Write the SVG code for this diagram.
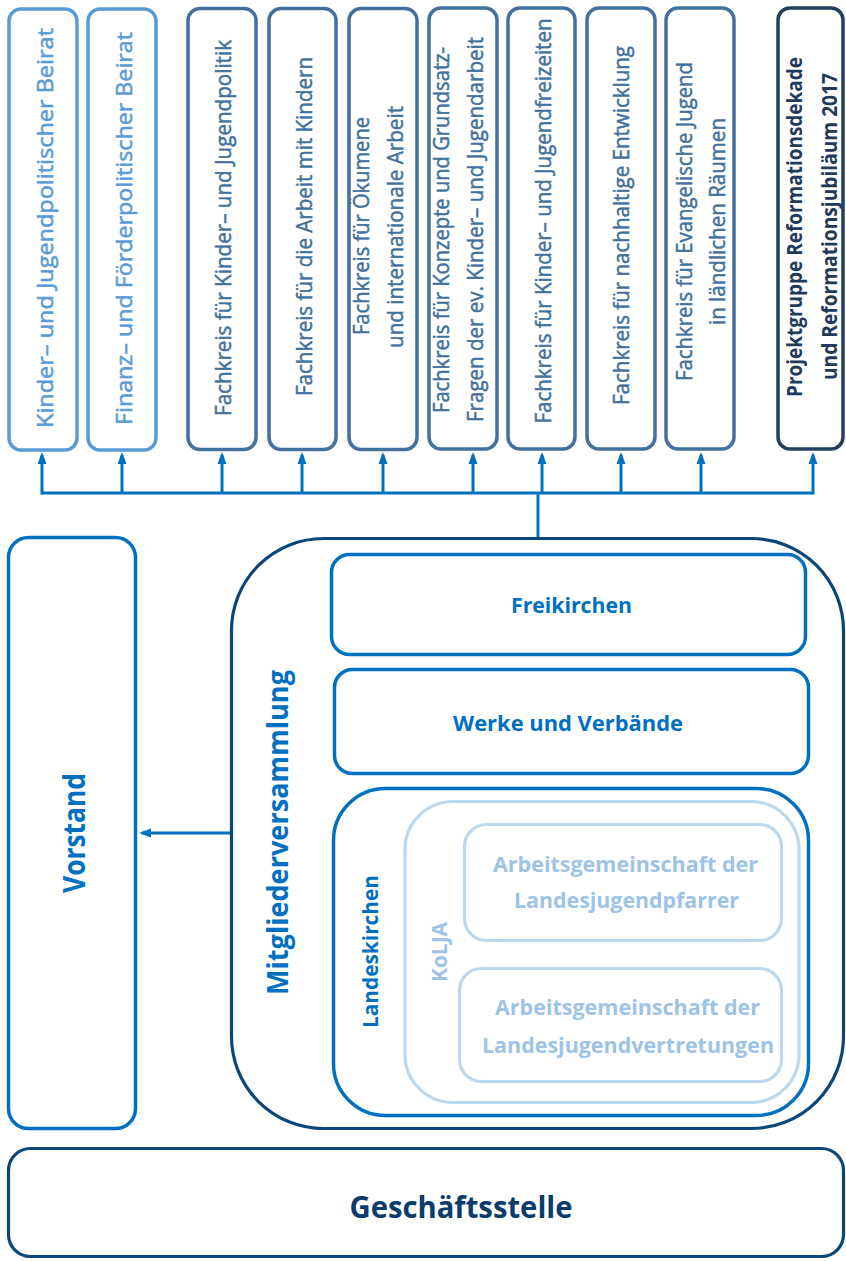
<svg xmlns="http://www.w3.org/2000/svg" width="846" height="1261" viewBox="0 0 846 1261">
<defs>
<marker id="arr" markerUnits="userSpaceOnUse" markerWidth="12" markerHeight="12" viewBox="0 0 12 12" refX="9" refY="6" orient="auto">
<path d="M0,1.5 L12,6 L0,10.5 Z" fill="#0070C0"/>
</marker>
</defs>
<style>
text{font-family:"Open Sans","Liberation Sans",sans-serif;}
.b{fill:#fff;stroke-width:3.5}
.lt{stroke:#5B9BD5}
.st{stroke:#41719C}
.dk{stroke:#233F60}
.bl{stroke:#0070C0}
.nv{stroke:#0B4679;stroke-width:3.2}
.pl{stroke:#BDD7EE;stroke-width:3.2}
.tl{fill:#5B9BD5;stroke:#5B9BD5;stroke-width:0.55;font-size:22px}
.ts{fill:#41719C;stroke:#41719C;stroke-width:0.5;font-size:21px}
.td{fill:#1F3A5A;font-size:21px;font-weight:700}
.tb{fill:#0070C0;font-weight:700}
.tp{fill:#9DC3E6;font-weight:700;font-size:22px}
.tg{fill:#0B3C6B;font-weight:700;font-size:31px}
.c{fill:none;stroke:#0070C0;stroke-width:3}
</style>
<rect width="846" height="1261" fill="#fff"/>

<g id="connectors">
<line class="c" x1="42" y1="493" x2="813" y2="493"/>
<line class="c" x1="538" y1="493" x2="538" y2="537"/>
<line class="c" x1="42" y1="494.5" x2="42" y2="455" marker-end="url(#arr)"/>
<line class="c" x1="122" y1="493" x2="122" y2="455" marker-end="url(#arr)"/>
<line class="c" x1="222" y1="493" x2="222" y2="455" marker-end="url(#arr)"/>
<line class="c" x1="302" y1="493" x2="302" y2="455" marker-end="url(#arr)"/>
<line class="c" x1="383" y1="493" x2="383" y2="455" marker-end="url(#arr)"/>
<line class="c" x1="473" y1="493" x2="473" y2="455" marker-end="url(#arr)"/>
<line class="c" x1="542" y1="493" x2="542" y2="455" marker-end="url(#arr)"/>
<line class="c" x1="621" y1="493" x2="621" y2="455" marker-end="url(#arr)"/>
<line class="c" x1="701" y1="493" x2="701" y2="455" marker-end="url(#arr)"/>
<line class="c" x1="813" y1="494.5" x2="813" y2="455" marker-end="url(#arr)"/>
<line class="c" x1="231" y1="833" x2="142" y2="833" marker-end="url(#arr)"/>
</g>

<g id="beirat-kj">
<rect class="b lt" x="9" y="9" width="68" height="441" rx="12"/>
<text class="tl" transform="translate(53,228) rotate(-90)" text-anchor="middle" textLength="400" lengthAdjust="spacingAndGlyphs">Kinder– und Jugendpolitischer Beirat</text>
</g>
<g id="beirat-ff">
<rect class="b lt" x="88" y="9" width="68" height="441" rx="12"/>
<text class="tl" transform="translate(132,228.5) rotate(-90)" text-anchor="middle" textLength="393" lengthAdjust="spacingAndGlyphs">Finanz– und Förderpolitischer Beirat</text>
</g>
<g id="fk-jugendpolitik">
<rect class="b st" x="188" y="8.5" width="68" height="441" rx="12"/>
<text class="ts" transform="translate(231,228) rotate(-90)" text-anchor="middle" textLength="376" lengthAdjust="spacingAndGlyphs">Fachkreis für Kinder– und Jugendpolitik</text>
</g>
<g id="fk-kinder">
<rect class="b st" x="269" y="8.5" width="67" height="441" rx="12"/>
<text class="ts" transform="translate(312,226.5) rotate(-90)" text-anchor="middle" textLength="339" lengthAdjust="spacingAndGlyphs">Fachkreis für die Arbeit mit Kindern</text>
</g>
<g id="fk-oekumene">
<rect class="b st" x="349" y="8.5" width="68" height="441" rx="12"/>
<text class="ts" transform="translate(369,226) rotate(-90)" text-anchor="middle" textLength="218" lengthAdjust="spacingAndGlyphs">Fachkreis für Ökumene</text>
<text class="ts" transform="translate(403,227) rotate(-90)" text-anchor="middle" textLength="242" lengthAdjust="spacingAndGlyphs">und internationale Arbeit</text>
</g>
<g id="fk-konzepte">
<rect class="b st" x="429" y="8" width="68" height="441" rx="12"/>
<text class="ts" transform="translate(449,230) rotate(-90)" text-anchor="middle" textLength="366" lengthAdjust="spacingAndGlyphs">Fachkreis für Konzepte und Grundsatz-</text>
<text class="ts" transform="translate(483,229.5) rotate(-90)" text-anchor="middle" textLength="385" lengthAdjust="spacingAndGlyphs">Fragen der ev. Kinder– und Jugendarbeit</text>
</g>
<g id="fk-freizeiten">
<rect class="b st" x="508" y="8" width="67" height="441" rx="12"/>
<text class="ts" transform="translate(551,221) rotate(-90)" text-anchor="middle" textLength="405" lengthAdjust="spacingAndGlyphs">Fachkreis für Kinder– und Jugendfreizeiten</text>
</g>
<g id="fk-nachhaltig">
<rect class="b st" x="587" y="8" width="68" height="441" rx="12"/>
<text class="ts" transform="translate(629,225.5) rotate(-90)" text-anchor="middle" textLength="359" lengthAdjust="spacingAndGlyphs">Fachkreis für nachhaltige Entwicklung</text>
</g>
<g id="fk-laendlich">
<rect class="b st" x="666" y="8" width="68" height="441" rx="12"/>
<text class="ts" transform="translate(692,221.5) rotate(-90)" text-anchor="middle" textLength="319" lengthAdjust="spacingAndGlyphs">Fachkreis für Evangelische Jugend</text>
<text class="ts" transform="translate(725,221.5) rotate(-90)" text-anchor="middle" textLength="207" lengthAdjust="spacingAndGlyphs">in ländlichen Räumen</text>
</g>
<g id="projektgruppe">
<rect class="b dk" x="778" y="8" width="65" height="441" rx="12"/>
<text class="td" transform="translate(802,227) rotate(-90)" text-anchor="middle" textLength="340" lengthAdjust="spacingAndGlyphs">Projektgruppe Reformationsdekade</text>
<text class="td" transform="translate(837,226.5) rotate(-90)" text-anchor="middle" textLength="307" lengthAdjust="spacingAndGlyphs">und Reformationsjubiläum 2017</text>
</g>

<g id="vorstand">
<rect class="b bl" x="8.5" y="537.5" width="127" height="591" rx="20"/>
<text class="tb" font-size="30" transform="translate(85,833) rotate(-90)" text-anchor="middle" textLength="120" lengthAdjust="spacingAndGlyphs">Vorstand</text>
</g>

<g id="mitgliederversammlung">
<rect class="b nv" x="231.5" y="538.5" width="612" height="590" rx="92"/>
<text class="tb" font-size="29" transform="translate(288,832.5) rotate(-90)" text-anchor="middle" textLength="325" lengthAdjust="spacingAndGlyphs">Mitgliederversammlung</text>
</g>

<g id="freikirchen">
<rect class="b bl" x="331.5" y="554.5" width="474" height="100" rx="18"/>
<text class="tb" font-size="22" x="571.5" y="613" text-anchor="middle" textLength="121" lengthAdjust="spacingAndGlyphs">Freikirchen</text>
</g>

<g id="werke">
<rect class="b bl" x="334.5" y="669.5" width="474" height="104" rx="18"/>
<text class="tb" font-size="22" x="568" y="731" text-anchor="middle" textLength="230" lengthAdjust="spacingAndGlyphs">Werke und Verbände</text>
</g>

<g id="landeskirchen">
<rect class="b bl" x="333.5" y="788.5" width="475" height="327" rx="52"/>
<text class="tb" font-size="22" transform="translate(378,951.5) rotate(-90)" text-anchor="middle" textLength="153" lengthAdjust="spacingAndGlyphs">Landeskirchen</text>
</g>

<g id="kolja">
<rect class="b pl" x="405" y="801.5" width="394" height="301" rx="48"/>
<text class="tp" transform="translate(447,952) rotate(-90)" text-anchor="middle" textLength="60" lengthAdjust="spacingAndGlyphs">KoLJA</text>
</g>

<g id="ag-pfarrer">
<rect class="b pl" x="464.5" y="824.5" width="317" height="116" rx="22"/>
<text class="tp" x="625.5" y="872" text-anchor="middle" textLength="265" lengthAdjust="spacingAndGlyphs">Arbeitsgemeinschaft der</text>
<text class="tp" x="626.5" y="908" text-anchor="middle" textLength="225" lengthAdjust="spacingAndGlyphs">Landesjugendpfarrer</text>
</g>

<g id="ag-vertretungen">
<rect class="b pl" x="459.5" y="968.5" width="322" height="113" rx="22"/>
<text class="tp" x="627.5" y="1015" text-anchor="middle" textLength="265" lengthAdjust="spacingAndGlyphs">Arbeitsgemeinschaft der</text>
<text class="tp" x="628" y="1053" text-anchor="middle" textLength="292" lengthAdjust="spacingAndGlyphs">Landesjugendvertretungen</text>
</g>

<g id="geschaeftsstelle">
<rect class="b nv" x="8.5" y="1148.5" width="835" height="108" rx="22"/>
<text class="tg" x="461" y="1218" text-anchor="middle" textLength="223" lengthAdjust="spacingAndGlyphs">Geschäftsstelle</text>
</g>
</svg>
